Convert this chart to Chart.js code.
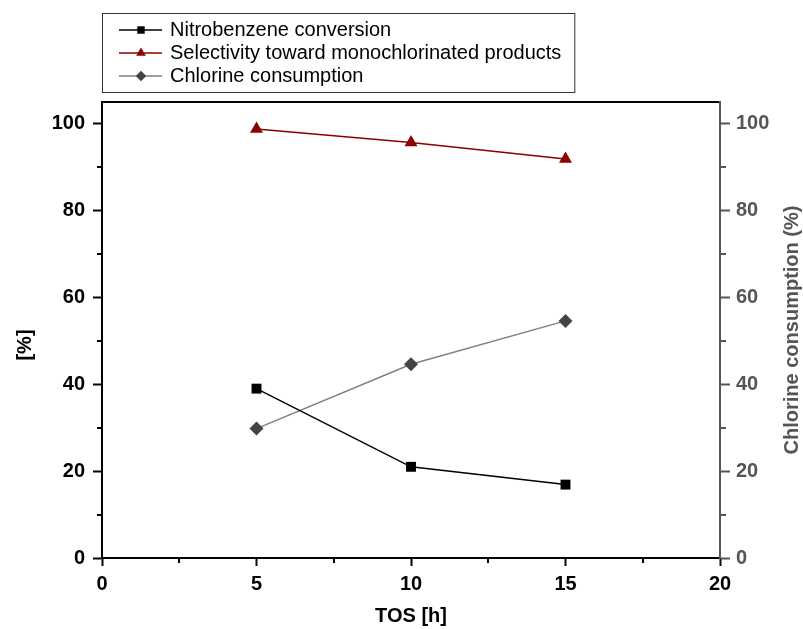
<!DOCTYPE html>
<html>
<head>
<meta charset="utf-8">
<script src="https://cdn.jsdelivr.net/npm/chart.js@4"></script>
<style>
  html, body { margin: 0; padding: 0; background: #fff; }
</style>
</head>
<body>
<canvas id="chartTos" width="803" height="629"></canvas>
<script>
// dados
const tos = [5, 10, 15];
const conversion = [39.0, 21.0, 16.9];
const selectivity = [98.8, 95.7, 91.9];
const chlorine = [29.8, 44.6, 54.6];
const xTicks = [0, 5, 10, 15, 20];
const yTicks = [0, 20, 40, 60, 80, 100];

const FONT = "'Liberation Sans', Arial, Helvetica, sans-serif";
const bold20 = { family: FONT, size: 20, weight: 'bold' };

// ticks menores no meio dos maiores
const minorTicks = {
    id: 'minorTicks',
    afterDraw(chart) {
        const ctx = chart.ctx;
        ctx.save();
        ctx.lineWidth = 2;
        ['x', 'y', 'y2'].forEach(id => {
            const s = chart.scales[id];
            ctx.strokeStyle = s.options.border.color;
            for (let i = 0; i < s.ticks.length - 1; i++) {
                const p = Math.round(s.getPixelForValue((s.ticks[i].value + s.ticks[i + 1].value) / 2));
                ctx.beginPath();
                if (id === 'x') { ctx.moveTo(p, s.top); ctx.lineTo(p, s.top + 5); }
                else if (id === 'y') { ctx.moveTo(s.right, p); ctx.lineTo(s.right - 5, p); }
                else { ctx.moveTo(s.left, p); ctx.lineTo(s.left + 6, p); }
                ctx.stroke();
            }
        });
        ctx.restore();
    }
};

// títulos dos eixos y (ambos lidos de baixo para cima)
const yTitles = {
    id: 'yTitles',
    afterDraw(chart) {
        const { ctx, chartArea } = chart;
        const midY = (chartArea.top + chartArea.bottom) / 2;
        ctx.save();
        ctx.font = 'bold 20px ' + FONT;
        ctx.textAlign = 'center';
        ctx.textBaseline = 'middle';
        [['[%]', 25, midY + 15, '#000'], ['Chlorine consumption (%)', 792, midY, '#555']].forEach(([text, x, y, color]) => {
            ctx.save();
            ctx.translate(x, y);
            ctx.rotate(-Math.PI / 2);
            ctx.fillStyle = color;
            ctx.fillText(text, 0, 0);
            ctx.restore();
        });
        ctx.restore();
    }
};

// legenda com caixa
const boxLegend = {
    id: 'boxLegend',
    afterDraw(chart) {
        const ctx = chart.ctx;
        const x0 = chart.chartArea.left;
        const y0 = 13;
        ctx.save();
        ctx.font = '20px ' + FONT;
        ctx.textBaseline = 'middle';
        let maxW = 0;
        chart.data.datasets.forEach((ds, i) => {
            const y = y0 + 17 + i * 23;
            ctx.strokeStyle = ds.borderColor;
            ctx.lineWidth = 1.5;
            ctx.beginPath();
            ctx.moveTo(x0 + 17, y);
            ctx.lineTo(x0 + 60, y);
            ctx.stroke();
            ctx.fillStyle = ds.pointBackgroundColor;
            Chart.helpers.drawPoint(ctx, { pointStyle: ds.pointStyle, radius: ds.pointRadius * 0.75, borderWidth: 0 }, x0 + 39, y);
            ctx.fillStyle = '#000';
            ctx.fillText(ds.label, x0 + 68, y);
            maxW = Math.max(maxW, ctx.measureText(ds.label).width);
        });
        ctx.strokeStyle = '#333';
        ctx.lineWidth = 1;
        ctx.strokeRect(x0 + 0.5, y0 + 0.5, 68 + maxW + 13, 79);
        ctx.restore();
    }
};

new Chart(document.getElementById('chartTos'), {
    type: 'line',
    data: {
        datasets: [{
            label: 'Nitrobenzene conversion',
            data: tos.map((x, i) => ({ x, y: conversion[i] })),
            yAxisID: 'y',
            borderColor: '#000',
            pointBackgroundColor: '#000',
            pointStyle: 'rect',
            pointRadius: 7,
            pointBorderWidth: 0,
            borderWidth: 1.5
        }, {
            label: 'Selectivity toward monochlorinated products',
            data: tos.map((x, i) => ({ x, y: selectivity[i] })),
            yAxisID: 'y',
            borderColor: '#8b0000',
            pointBackgroundColor: '#8b0000',
            pointStyle: 'triangle',
            pointRadius: 7.5,
            pointBorderWidth: 0,
            borderWidth: 1.5
        }, {
            label: 'Chlorine consumption',
            data: tos.map((x, i) => ({ x, y: chlorine[i] })),
            yAxisID: 'y2',
            borderColor: '#808080',
            pointBackgroundColor: '#444',
            pointStyle: 'rectRot',
            pointRadius: 7,
            pointBorderWidth: 0,
            borderWidth: 1.5
        }]
    },
    options: {
        responsive: false,
        animation: false,
        devicePixelRatio: 1,
        layout: { padding: { top: 102, left: 0, right: 0, bottom: 0 } },
        plugins: {
            legend: { display: false },
            tooltip: { enabled: false }
        },
        scales: {
            x: {
                type: 'linear',
                position: 'bottom',
                min: 0,
                max: 20,
                afterBuildTicks: s => { s.ticks = xTicks.map(v => ({ value: v })); },
                afterFit: s => { s.height = 71; },
                grid: { drawOnChartArea: false, tickLength: 8, tickWidth: 2, tickColor: '#000' },
                border: { color: '#000', width: 2 },
                ticks: { color: '#000', padding: 6, font: bold20, maxRotation: 0 },
                title: { display: true, text: 'TOS [h]', color: '#000', font: bold20, padding: { top: 0, bottom: 1 } }
            },
            xTop: {
                type: 'linear',
                position: 'top',
                display: true,
                min: 0,
                max: 20,
                afterFit: s => { s.height = 0; },
                grid: { display: false },
                border: { color: '#000', width: 2 },
                ticks: { display: false }
            },
            y: {
                position: 'left',
                min: 0,
                max: 105,
                afterBuildTicks: s => { s.ticks = yTicks.map(v => ({ value: v })); },
                afterFit: s => { s.width = 102; },
                grid: { drawOnChartArea: false, tickLength: 9, tickWidth: 2, tickColor: '#000' },
                border: { color: '#000', width: 2 },
                ticks: { color: '#000', padding: 8, font: bold20 }
            },
            y2: {
                position: 'right',
                min: 0,
                max: 105,
                afterBuildTicks: s => { s.ticks = yTicks.map(v => ({ value: v })); },
                afterFit: s => { s.width = 83; },
                grid: { drawOnChartArea: false, tickLength: 10, tickWidth: 2, tickColor: '#555' },
                border: { color: '#555', width: 2 },
                ticks: { color: '#555', padding: 6, font: bold20 }
            }
        }
    },
    plugins: [minorTicks, yTitles, boxLegend]
});
</script>
</body>
</html>
